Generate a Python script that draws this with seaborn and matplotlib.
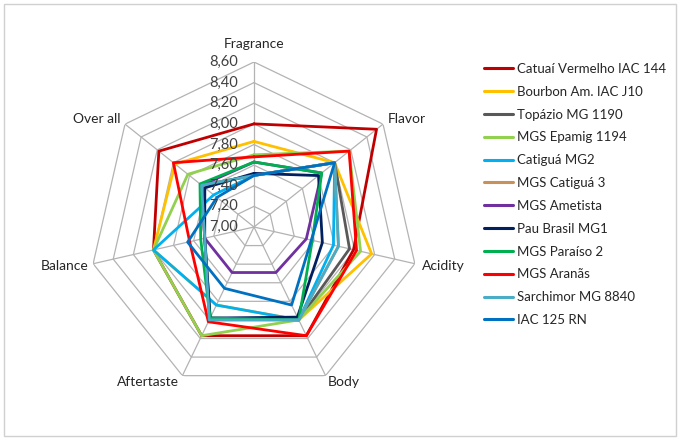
import numpy as np
import pandas as pd
import matplotlib
matplotlib.use("Agg")
import matplotlib.pyplot as plt
import seaborn as sns
from matplotlib.patches import Rectangle
from matplotlib.lines import Line2D

# ---------------- data ----------------
categories = ["Fragrance", "Flavor", "Acidity", "Body", "Aftertaste", "Balance", "Over all"]
ring_values = [7.00, 7.20, 7.40, 7.60, 7.80, 8.00, 8.20, 8.40, 8.60]
ring_labels = ["7,00", "7,20", "7,40", "7,60", "7,80", "8,00", "8,20", "8,40", "8,60"]

series_names = [
    "Catuaí Vermelho IAC 144", "Bourbon Am. IAC J10", "Topázio MG 1190",
    "MGS Epamig 1194", "Catiguá MG2", "MGS Catiguá 3", "MGS Ametista",
    "Pau Brasil MG1", "MGS Paraíso 2", "MGS Aranãs", "Sarchimor MG 8840",
    "IAC 125 RN",
]
catuai_vermelho = [8.00, 8.52, 7.99, 8.17, 8.17, 8.00, 8.18]
bourbon_am = [7.83, 8.00, 8.17, 8.00, 7.84, 8.00, 7.98]
topazio = [7.50, 8.00, 7.95, 8.00, 7.98, 7.49, 7.65]
mgs_epamig = [7.70, 8.18, 8.06, 8.00, 8.17, 8.00, 7.82]
catigua_mg2 = [7.50, 8.00, 7.79, 8.00, 7.84, 8.00, 7.50]
mgs_catigua3 = [7.50, 8.00, 7.84, 8.00, 8.00, 7.49, 7.65]
mgs_ametista = [7.63, 7.84, 7.52, 7.49, 7.49, 7.49, 7.65]
pau_brasil = [7.52, 7.80, 7.68, 7.97, 7.98, 7.49, 7.61]
mgs_paraiso = [7.63, 7.84, 7.58, 8.00, 7.98, 7.53, 7.67]
mgs_aranas = [7.68, 8.18, 8.02, 8.17, 8.02, 7.64, 8.00]
sarchimor = [7.50, 8.00, 7.84, 8.00, 8.00, 7.49, 7.65]
iac_125_rn = [7.50, 8.00, 7.57, 7.84, 7.66, 7.66, 7.46]

series_values = [catuai_vermelho, bourbon_am, topazio, mgs_epamig, catigua_mg2,
                 mgs_catigua3, mgs_ametista, pau_brasil, mgs_paraiso, mgs_aranas,
                 sarchimor, iac_125_rn]
series_colors = ["#C00000", "#FFC000", "#595959", "#92D050", "#00B0F0", "#C8915A",
                 "#7030A0", "#002060", "#00B050", "#FF0000", "#4BACC6", "#0070C0"]

# ---------------- build long table ----------------
n = len(categories)
angles = np.arange(n) * 2 * np.pi / n
rows = []
for name, vals in zip(series_names, series_values):
    for i in range(n + 1):
        rows.append({"series": name,
                     "theta": angles[i % n] + (2 * np.pi if i == n else 0.0),
                     "value": vals[i % n]})
df = pd.DataFrame(rows)

# ---------------- figure ----------------
sns.set_theme(style="white")
plt.rcParams["font.family"] = ["Lato", "DejaVu Sans"]

W, H = 681, 440
fig = plt.figure(figsize=(W / 100, H / 100), dpi=100)
cx, cy, R = 254, 227, 165
ax = fig.add_axes([(cx - R) / W, (H - cy - R) / H, 2 * R / W, 2 * R / H], projection="polar")
ax.set_theta_zero_location("N")
ax.set_theta_direction(-1)
ax.set_ylim(ring_values[0], ring_values[-1])
ax.grid(False)
ax.spines["polar"].set_visible(False)
ax.set_xticks([])
ax.set_yticks([])
ax.patch.set_alpha(0)

grid_color = "#B3B3B3"
closed = np.append(angles, angles[0] + 2 * np.pi)
for v in ring_values[1:]:
    ax.plot(closed, [v] * (n + 1), color=grid_color, lw=0.9, zorder=1)
for a in angles:
    ax.plot([a, a], [ring_values[0], ring_values[-1]], color=grid_color, lw=0.9, zorder=1)

sns.lineplot(data=df, x="theta", y="value", hue="series", hue_order=series_names,
             palette=series_colors, sort=False, estimator=None, linewidth=2.0,
             legend=False, ax=ax, zorder=3)
ax.set_xlabel("")
ax.set_ylabel("")
ax.set_ylim(ring_values[0], ring_values[-1])

# ring labels
for v, lab in zip(ring_values, ring_labels):
    ax.annotate(lab, xy=(0, v), xytext=(-16, 0), textcoords="offset pixels",
                ha="right", va="center", fontsize=10.5, color="#404040", zorder=5)

# category labels (offsets in pixels from the outer vertex)
label_offsets = [(0, 18), (24, 5), (28, -2), (18, -6), (-34, -6), (-29, -2), (-28, 5)]
for a, cat, (dx, dy) in zip(angles, categories, label_offsets):
    ax.annotate(cat, xy=(a, ring_values[-1]), xytext=(dx, dy), textcoords="offset pixels",
                ha="center", va="center", fontsize=10, color="#262626",
                annotation_clip=False)

# legend
handles = [Line2D([0], [0], color=c, lw=2.2) for c in series_colors]
fig.legend(handles, series_names, loc="upper left",
           bbox_to_anchor=(484 / W, 1 - 63 / H), frameon=False,
           fontsize=9.5, labelspacing=0.82, handlelength=2.2, handletextpad=0.3,
           borderpad=0, borderaxespad=0, labelcolor="#262626")

# outer border
fig.patches.append(Rectangle((4 / W, 4 / H), 672 / W, 432 / H, transform=fig.transFigure,
                             fill=False, edgecolor="#D0D0D0", lw=1.0))

fig.savefig("out.png", dpi=100)
